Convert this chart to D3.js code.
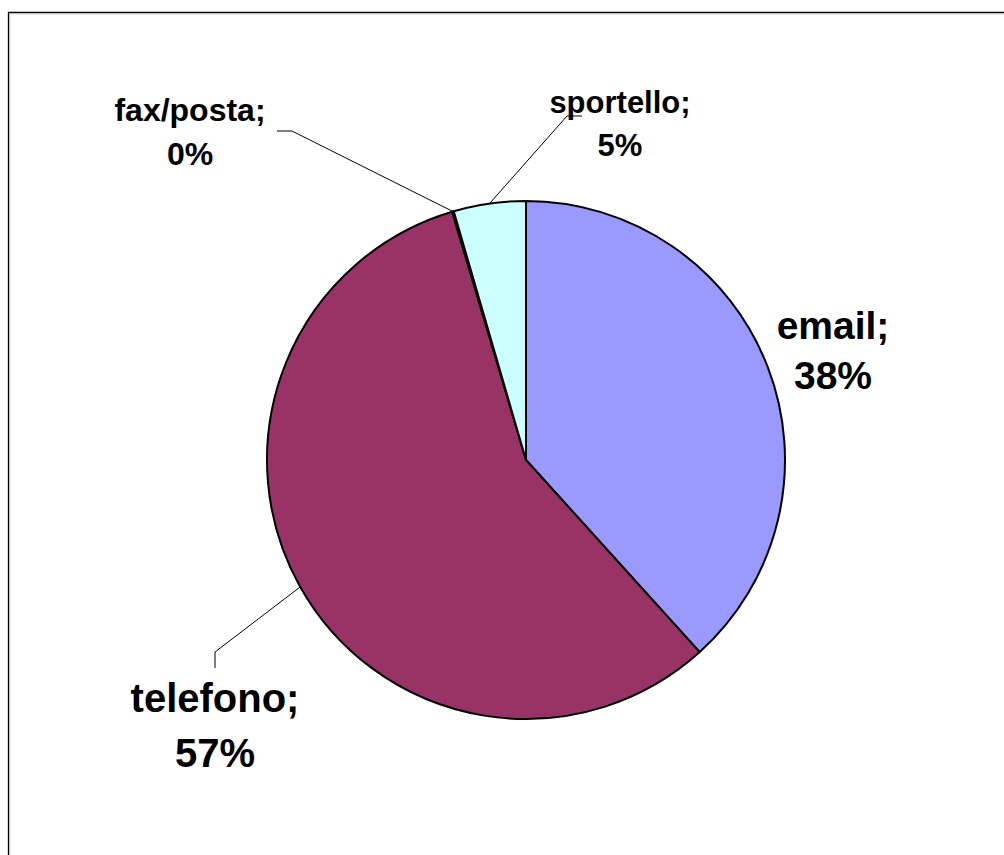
<!DOCTYPE html>
<html>
<head>
<meta charset="utf-8">
<script src="https://cdn.jsdelivr.net/npm/d3@7"></script>
<style>
  html, body { margin: 0; padding: 0; background: #fff; }
  svg { display: block; }
</style>
</head>
<body>
<svg id="chart" width="1004" height="855"></svg>
<script>
/* ================================
   DATA
================================ */

const categories = ["email", "telefono", "fax/posta", "sportello"];
const values     = [383, 571, 1, 45];
const colors     = ["#9999ff", "#993366", "#ffffcc", "#ccffff"];

/* ================================
   PIE
================================ */

const svg = d3.select("#chart");
const cx = 526, cy = 460, radius = 259;
const total = d3.sum(values);

// frame (only top and left edges are inside the window)
svg.append("path")
  .attr("d", "M8.5,860 V12.5 H1010")
  .attr("fill", "none")
  .attr("stroke", "#000")
  .attr("stroke-width", 1.3);
svg.append("path")
  .attr("d", "M9.8,860 V13.8 H1010")
  .attr("fill", "none")
  .attr("stroke", "#c0c0c0")
  .attr("stroke-width", 1);

const pie = d3.pie().sort(null).value(d => d.value);
const arc = d3.arc().innerRadius(0).outerRadius(radius);

const slices = pie(categories.map((c, i) => ({ name: c, value: values[i], color: colors[i] })));

const g = svg.append("g").attr("transform", `translate(${cx},${cy})`);

g.selectAll("path")
  .data(slices)
  .join("path")
  .attr("d", arc)
  .attr("fill", d => d.data.color)
  .attr("stroke", "#000")
  .attr("stroke-width", 2)
  .attr("stroke-linejoin", "round");

/* ================================
   LABELS
================================ */

// label placement: text centre, baselines, font size, leader elbow
const labelLayout = {
  "email":     { x: 833, y1: 339, y2: 389, size: 39, leader: null },
  "telefono":  { x: 215, y1: 712, y2: 767, size: 40, leader: [[215, 668], [215, 652]] },
  "fax/posta": { x: 190, y1: 121, y2: 165, size: 32, leader: [[277, 131], [292, 131]] },
  "sportello": { x: 620, y1: 113, y2: 156, size: 31, leader: [[582, 116], [567, 116]] }
};

slices.forEach(d => {
  const lay = labelLayout[d.data.name];
  const pct = Math.round(d.data.value * 100 / total) + "%";

  if (lay.leader) {
    const mid = (d.startAngle + d.endAngle) / 2;
    const px = cx + radius * Math.sin(mid);
    const py = cy - radius * Math.cos(mid);
    const pts = lay.leader.concat([[px, py]]);
    svg.append("path")
      .attr("d", d3.line()(pts))
      .attr("fill", "none")
      .attr("stroke", "#000")
      .attr("stroke-width", 1);
  }

  const t = svg.append("text")
    .attr("text-anchor", "middle")
    .style("font-family", "'Liberation Sans', Arial, sans-serif")
    .style("font-weight", "bold")
    .style("font-size", lay.size + "px")
    .style("fill", "#000");
  t.append("tspan").attr("x", lay.x).attr("y", lay.y1).text(d.data.name + ";");
  t.append("tspan").attr("x", lay.x).attr("y", lay.y2).text(pct);
});
</script>
</body>
</html>
